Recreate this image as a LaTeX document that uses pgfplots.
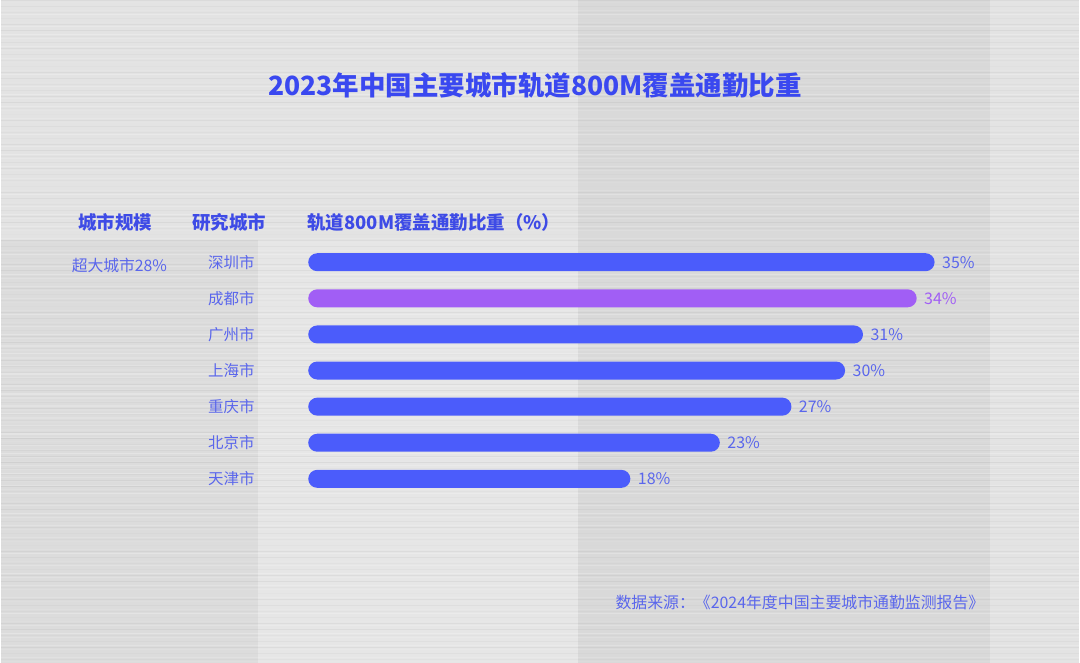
\documentclass[border=0pt]{standalone}
\usepackage{pgfplots}
\pgfplotsset{compat=1.18}
\usepackage{pgfplotstable}
\usepackage{fontspec}
\setmainfont{Noto Sans CJK SC}
\definecolor{bg}{HTML}{E3E3E3}
\definecolor{panel}{HTML}{D9D9D9}
\definecolor{leftp}{HTML}{DCDCDC}
\definecolor{barblue}{HTML}{4B5CFB}
\definecolor{barpurple}{HTML}{A15EF5}
\definecolor{titleblue}{HTML}{3A48F0}
\definecolor{headblue}{HTML}{3E4BE6}
\definecolor{lblblue}{HTML}{5A66EC}
\pgfplotstableread{
y v
0 35
2 31
3 30
4 27
5 23
6 18
}\bluedata
\pgfplotstableread{
y v
1 34
}\purpledata
\begin{document}
\begin{tikzpicture}[x=1pt,y=1pt]
% background
\fill[bg] (0,0) rectangle (1080,663);
\fill[panel] (578,0) rectangle (990,663);
\fill[leftp] (0,0) rectangle (258,423);
\fill[white,opacity=0.12] (258,0) rectangle (578,423);
\foreach \i in {0,...,165}{
  \pgfmathsetmacro{\op}{0.06+0.22*mod(\i*7,5)/5}
  \draw[white,opacity=\op,line width=1.1pt] (0,\i*4+1) -- (1080,\i*4+1);
}
\foreach \i in {0,...,110}{
  \pgfmathsetmacro{\op}{0.02+0.04*mod(\i*3,4)/4}
  \draw[black,opacity=\op,line width=0.8pt] (0,\i*6+3) -- (1080,\i*6+3);
}
% title
\node[text=titleblue,font=\bfseries\fontsize{26.5}{30}\selectfont] at (535,578) {2023年中国主要城市轨道800M覆盖通勤比重};
% headers
\node[text=headblue,font=\bfseries\fontsize{18.5}{21}\selectfont] at (115,441) {城市规模};
\node[text=headblue,font=\bfseries\fontsize{18.5}{21}\selectfont] at (229,441) {研究城市};
\node[text=headblue,font=\bfseries\fontsize{18.5}{21}\selectfont,anchor=west,inner sep=0pt] at (307,441) {轨道800M覆盖通勤比重（\%）};
\node[text=lblblue,font=\fontsize{15.8}{18}\selectfont] at (119,398) {超大城市28\%};
% source
\node[text=lblblue,font=\fontsize{15.9}{19}\selectfont,anchor=east,inner sep=0pt] at (985,60) {数据来源：《2024年度中国主要城市通勤监测报告》};
\begin{axis}[
  at={(308pt,166pt)}, anchor=south west,
  scale only axis, width=627pt, height=253pt,
  xmin=0, xmax=35, ymin=-0.5, ymax=6.5,
  y dir=reverse,
  xbar, bar width=18pt, bar shift=0pt,
  axis line style={draw=none},
  major tick length=0pt,
  xtick=\empty,
  ytick={0,1,2,3,4,5,6},
  yticklabels={深圳市,成都市,广州市,上海市,重庆市,北京市,天津市},
  yticklabel style={anchor=center, xshift=-77pt, text=lblblue, font=\fontsize{15.5}{18}\selectfont},
  clip=false,
  /pgf/number format/assume math mode=true,
  nodes near coords={\pgfmathprintnumber{\pgfplotspointmeta}\%},
  nodes near coords align=horizontal,
  point meta=x,
]
\addplot[fill=barblue, draw=none, rounded corners=9pt,
  every node near coord/.append style={text=lblblue, font=\fontsize{16}{18}\selectfont, xshift=4pt}]
  table[x=v,y=y] {\bluedata};
\addplot[fill=barpurple, draw=none, rounded corners=9pt,
  every node near coord/.append style={text=barpurple, font=\fontsize{16}{18}\selectfont, xshift=4pt}]
  table[x=v,y=y] {\purpledata};
\end{axis}
\end{tikzpicture}
\end{document}
